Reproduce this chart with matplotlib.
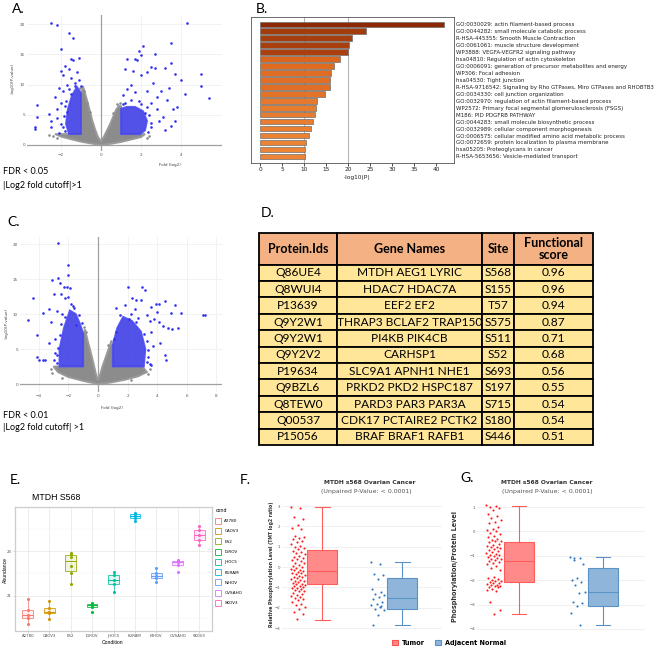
import numpy as np
import matplotlib.pyplot as plt
from matplotlib.colors import LinearSegmentedColormap, Normalize, to_rgba
from matplotlib.patches import Polygon, Patch
from matplotlib.lines import Line2D

W, H = 661, 649

# ---------------- A: volcano (FDR < 0.05) ----------------
gray_a = [(0, 0), (-0.5, 0.25), (-1.0, 0.55), (-1.5, 0.95), (-2.0, 1.4), (-2.3, 1.8),
          (-1.0, 1.8), (-1.0, 8.2), (-0.9, 9.7), (-0.75, 8.0), (-0.6, 6.2), (-0.45, 4.2),
          (-0.3, 2.6), (-0.15, 1.3), (0, 0.6), (0.15, 1.4), (0.3, 2.4), (0.45, 3.4),
          (0.6, 4.6), (0.75, 5.8), (0.9, 6.5), (1.0, 6.4), (1.0, 1.8), (2.2, 1.8),
          (2.0, 1.3), (1.5, 0.9), (1.0, 0.5), (0.5, 0.2)]
gray_pts_a = [(-2.4, 1.5), (-2.6, 1.7), (-2.2, 1.2), (2.4, 1.5), (2.3, 1.1), (-1.05, 9.4),
              (0.95, 6.9), (-0.7, 6.9), (-0.55, 5.4), (0.6, 5.3), (0.8, 6.7), (-0.85, 9.0)]
blue_core_a = [
    [(-1.0, 1.8), (-1.6, 1.8), (-1.75, 3.5), (-1.65, 6.0), (-1.45, 8.2), (-1.2, 9.6), (-1.0, 8.6)],
    [(1.0, 1.8), (1.0, 6.0), (1.3, 6.3), (1.7, 6.3), (2.1, 5.6), (2.3, 4.0), (2.2, 2.4), (1.95, 1.8)],
]
blue_a = [(-2.5, 20.1), (-2.2, 19.8), (-1.6, 18.6), (-1.4, 17.7), (-2.0, 15.9), (-1.5, 14.3),
          (-1.4, 14.0), (-1.1, 14.4), (-1.8, 13.0), (-2.0, 12.2), (-1.6, 12.5), (-1.2, 12.0),
          (-1.9, 11.6), (-1.5, 11.0), (-1.1, 10.8), (-2.1, 9.5), (-1.7, 10.0), (-1.3, 9.8),
          (-2.3, 8.0), (-2.0, 7.0), (-1.8, 6.5), (-3.2, 6.6), (-2.6, 5.2), (-3.2, 4.7),
          (-2.5, 4.0), (-2.2, 4.4), (-2.0, 3.5), (-3.3, 2.9), (-3.3, 2.6), (-2.5, 2.9),
          (-1.8, 2.3), (-2.1, 2.0), (-1.7, 5.5), (-1.5, 8.5), (-2.2, 6.0),
          (-1.75, 7.2), (-1.85, 4.8), (-1.9, 3.0), (-1.3, 10.3), (-1.0, 9.8), (-1.6, 9.2),
          (-1.9, 8.9),
          (4.3, 20.1), (3.5, 16.8), (2.1, 16.3), (1.9, 15.6), (2.0, 14.9), (2.7, 15.1),
          (1.7, 14.3), (1.3, 14.3), (1.8, 14.1), (3.5, 13.5), (2.5, 12.9), (2.7, 12.7),
          (3.2, 12.7), (1.2, 12.6), (1.6, 12.2), (2.3, 12.0), (2.0, 11.5), (3.7, 11.8),
          (5.0, 11.8), (5.0, 9.8), (4.0, 10.8), (4.2, 8.4), (3.4, 9.5), (3.0, 9.0),
          (2.6, 10.2), (2.8, 8.0), (3.3, 7.5), (2.5, 7.0), (3.8, 6.3), (3.6, 5.9),
          (5.4, 7.8), (3.1, 4.6), (3.5, 3.1), (3.7, 4.0), (2.9, 4.0), (2.5, 3.0),
          (3.2, 2.5), (2.3, 9.0), (1.5, 10.0), (1.3, 9.2), (1.1, 8.3), (2.2, 5.3),
          (2.8, 6.0), (1.9, 7.3), (1.7, 8.8),
          (2.4, 5.0), (2.5, 3.6), (2.35, 2.2), (1.2, 7.0), (1.5, 7.4), (2.0, 6.8),
          (2.3, 6.3), (1.1, 6.8)]

# ---------------- C: volcano (FDR < 0.01) ----------------
gray_c = [(0, 0), (-1.0, 0.45), (-2.0, 1.0), (-2.7, 1.7), (-3.0, 2.5), (-1.0, 2.5),
          (-1.0, 7.0), (-0.88, 7.8), (-0.7, 6.2), (-0.5, 4.6), (-0.3, 2.9), (-0.15, 1.5),
          (0, 0.5), (0.15, 1.4), (0.3, 2.5), (0.5, 3.7), (0.7, 4.9), (0.85, 5.8),
          (1.0, 5.5), (1.0, 2.5), (3.0, 2.5), (3.3, 1.7), (2.7, 1.1), (1.8, 0.6), (0.8, 0.2)]
gray_pts_c = [(-3.2, 2.2), (-3.1, 1.6), (3.5, 2.2), (3.4, 1.4), (-0.95, 8.2), (0.9, 6.2),
              (-0.8, 7.4), (0.7, 5.6), (-2.4, 0.9), (2.2, 0.6)]
blue_core_c = [
    [(-1.0, 2.5), (-2.6, 2.5), (-2.6, 5.0), (-2.3, 8.0), (-1.9, 10.5), (-1.5, 10.0),
     (-1.2, 8.5), (-1.0, 7.2)],
    [(1.0, 2.5), (1.0, 5.6), (1.3, 8.0), (1.7, 9.6), (2.3, 9.0), (2.9, 7.5), (3.2, 5.0),
     (3.1, 2.5)],
]
blue_c = [(-2.7, 20.2), (-2.0, 17.0), (-2.0, 15.6), (-3.1, 14.8), (-2.7, 15.2), (-2.6, 14.5),
          (-2.3, 13.9), (-2.1, 13.9), (-1.9, 13.7), (-3.0, 12.8), (-2.5, 12.8), (-2.2, 12.3),
          (-2.0, 12.5), (-4.4, 12.3), (-1.8, 11.5), (-1.6, 10.8), (-3.7, 10.1), (-3.3, 10.7),
          (-2.8, 10.5), (-4.7, 9.1), (-4.1, 7.0), (-3.3, 5.8), (-2.9, 6.5), (-4.1, 3.8),
          (-4.0, 3.5), (-3.7, 3.4), (-3.6, 3.4), (-3.0, 3.5), (-2.9, 4.4), (-2.7, 5.2),
          (-3.2, 8.8), (-1.5, 8.5), (-2.4, 10.0),
          (-2.8, 3.0), (-2.75, 4.2), (-2.6, 7.0), (-2.2, 9.6), (-1.7, 11.2), (-1.3, 9.8),
          (-1.1, 8.7), (-2.5, 8.6),
          (2.0, 13.9), (3.0, 13.8), (3.2, 13.5), (2.3, 12.3), (2.6, 12.0), (2.9, 12.0),
          (1.8, 11.3), (3.9, 11.5), (4.1, 11.5), (4.5, 11.8), (5.2, 11.3), (3.6, 11.0),
          (1.2, 10.9), (4.0, 10.3), (4.9, 10.2), (5.6, 10.1), (7.2, 9.9), (7.1, 9.8),
          (3.3, 9.8), (2.7, 9.5), (3.5, 9.0), (3.8, 9.3), (4.1, 8.8), (4.4, 8.3),
          (4.7, 8.0), (5.0, 7.9), (5.4, 8.0), (3.6, 7.5), (4.2, 5.8), (4.5, 4.2),
          (4.6, 3.5), (3.4, 4.8), (3.7, 5.5), (3.3, 3.2), (3.5, 2.8), (2.2, 10.0),
          (1.5, 9.8), (2.5, 10.7),
          (3.4, 3.8), (3.3, 6.2), (3.1, 7.2), (2.6, 8.8), (2.1, 9.3), (1.2, 7.5),
          (1.1, 6.5), (3.6, 2.7)]

# ---------------- B: enrichment bars ----------------
terms = ["GO:0030029: actin filament-based process",
         "GO:0044282: small molecule catabolic process",
         "R-HSA-445355: Smooth Muscle Contraction",
         "GO:0061061: muscle structure development",
         "WP3888: VEGFA-VEGFR2 signaling pathway",
         "hsa04810: Regulation of actin cytoskeleton",
         "GO:0006091: generation of precursor metabolites and energy",
         "WP306: Focal adhesion",
         "hsa04530: Tight junction",
         "R-HSA-9716542: Signaling by Rho GTPases, Miro GTPases and RHOBTB3",
         "GO:0034330: cell junction organization",
         "GO:0032970: regulation of actin filament-based process",
         "WP2572: Primary focal segmental glomerulosclerosis (FSGS)",
         "M186: PID PDGFRB PATHWAY",
         "GO:0044283: small molecule biosynthetic process",
         "GO:0032989: cellular component morphogenesis",
         "GO:0006575: cellular modified amino acid metabolic process",
         "GO:0072659: protein localization to plasma membrane",
         "hsa05205: Proteoglycans in cancer",
         "R-HSA-5653656: Vesicle-mediated transport"]
neg_log_p = [41.8, 24.0, 20.8, 20.3, 19.9, 18.2, 16.7, 16.0, 15.9, 15.8,
             14.7, 13.0, 12.6, 12.4, 12.0, 11.5, 11.1, 10.5, 10.2, 10.1]

# ---------------- D: table ----------------
table_header = ["Protein.Ids", "Gene Names", "Site", "Functional\nscore"]
protein_ids = ["Q86UE4", "Q8WUI4", "P13639", "Q9Y2W1", "Q9Y2W1", "Q9Y2V2",
               "P19634", "Q9BZL6", "Q8TEW0", "Q00537", "P15056"]
gene_names = ["MTDH AEG1 LYRIC", "HDAC7 HDAC7A", "EEF2 EF2", "THRAP3 BCLAF2 TRAP150",
              "PI4KB PIK4CB", "CARHSP1", "SLC9A1 APNH1 NHE1", "PRKD2 PKD2 HSPC187",
              "PARD3 PAR3 PAR3A", "CDK17 PCTAIRE2 PCTK2", "BRAF BRAF1 RAFB1"]
sites = ["S568", "S155", "T57", "S575", "S511", "S52", "S693", "S197", "S715", "S180", "S446"]
func_scores = [0.96, 0.96, 0.94, 0.87, 0.71, 0.68, 0.56, 0.55, 0.54, 0.54, 0.51]

# ---------------- E: MTDH S568 abundance per cell line ----------------
conds = ["A2780", "CAOV3", "ES2", "IGROV", "JHOC5", "KURAM", "NIHOV", "OVSAHO", "SKOV3"]
abundance = [
    [19.74, 20.01, 20.16, 20.38, 20.85],
    [19.98, 20.23, 20.27, 20.48, 20.79],
    [21.53, 22.04, 22.33, 22.74, 22.87, 22.90],
    [20.30, 20.52, 20.60, 20.64, 20.70],
    [21.19, 21.53, 21.71, 21.93, 22.05],
    [24.33, 24.45, 24.56, 24.63, 24.70],
    [21.64, 21.81, 21.91, 22.01, 22.26],
    [22.08, 22.38, 22.51, 22.55, 22.60],
    [23.27, 23.49, 23.71, 23.93, 24.11],
]
cond_colors = ["#F8766D", "#D39200", "#93AA00", "#00BA38", "#00C19F",
               "#00B9E3", "#619CFF", "#DB72FB", "#FF61C3"]

# ---------------- F / G: tumor vs adjacent normal ----------------
f_tumor = [2.97, 2.9, 2.45, 2.35, 2.05, 1.9, 1.85, 1.55, 1.5, 1.42, 1.38, 1.3, 1.25, 1.15,
           1.05, 1.0, 0.95, 0.88, 0.8, 0.72, 0.7, 0.62, 0.55, 0.5, 0.45, 0.4, 0.35, 0.3,
           0.22, 0.18, 0.1, 0.05, 0.0, -0.05, -0.08, -0.12, -0.15, -0.2, -0.22, -0.28,
           -0.3, -0.35, -0.4, -0.42, -0.48, -0.5, -0.55, -0.6, -0.62, -0.68, -0.7, -0.75,
           -0.78, -0.82, -0.85, -0.9, -0.92, -0.95, -1.0, -1.02, -1.05, -1.1, -1.12,
           -1.18, -1.2, -1.25, -1.3, -1.35, -1.4, -1.45, -1.5, -1.55, -1.62, -1.7, -1.8,
           -1.85, -1.95, -2.05, -2.2, -2.3, -2.55]
f_normal = [0.26, 0.14, -0.32, -0.40, -0.58, -1.10, -1.22, -1.30, -1.38, -1.45, -1.55,
            -1.71, -1.80, -1.84, -1.96, -2.04, -2.12, -2.37, -2.86, -1.90]
g_tumor = [1.08, 1.05, 1.0, 0.95, 0.88, 0.7, 0.62, 0.55, 0.45, 0.38, 0.33, 0.2, 0.12, 0.05,
           0.0, -0.05, -0.1, -0.18, -0.22, -0.3, -0.35, -0.38, -0.4, -0.45, -0.5, -0.55,
           -0.6, -0.62, -0.65, -0.68, -0.72, -0.76, -0.8, -0.85, -0.88, -0.92, -0.95,
           -0.98, -1.0, -1.05, -1.1, -1.12, -1.15, -1.17, -1.2, -1.25, -1.3, -1.35, -1.42,
           -1.5, -1.58, -1.85, -1.9, -1.95, -2.0, -2.02, -2.05, -2.08, -2.1, -2.12, -2.15,
           -2.18, -2.2, -2.22, -2.25, -2.27, -2.3, -2.35, -2.4, -2.45, -2.88, -3.22, -3.39]
g_normal = [-1.04, -1.10, -1.17, -1.34, -1.90, -1.99, -2.06, -2.20, -2.47, -2.54, -2.88,
            -2.95, -3.06, -3.36, -3.84, -1.08]
# box summaries: (whisker low, q1, median, q3, whisker high)
f_tumor_box = (-2.58, -0.84, -0.19, 0.83, 2.97)
f_normal_box = (-2.86, -2.07, -1.50, -0.53, 0.26)
g_tumor_box = (-3.39, -2.09, -1.20, -0.42, 1.05)
g_normal_box = (-3.84, -3.04, -2.47, -1.51, -1.06)
f_yticks = [3, 2, 1, 0, -1, -2, -3]
g_yticks = [1, 0, -1, -2, -3, -4]

fig = plt.figure(figsize=(W / 100, H / 100), dpi=100)


def add_ax(x0, y0, x1, y1):
    """Axes from a pixel box: left, top, right, bottom."""
    return fig.add_axes([x0 / W, 1 - y1 / H, (x1 - x0) / W, (y1 - y0) / H])


def put(x, y, s, **kw):
    kw.setdefault("va", "center")
    fig.text(x / W, 1 - y / H, s, **kw)


def volcano(ax, gray, gray_pts, cores, blue, xlim, ylim, xticks):
    ax.set_xlim(xlim)
    ax.set_ylim(ylim)
    for sp in ax.spines.values():
        sp.set_visible(False)
    ax.set_xticks(xticks)
    ax.set_yticks([0, 5, 10, 15, 20])
    ax.grid(True, color="#ededed", lw=0.5)
    ax.set_axisbelow(True)
    ax.axvline(0, color="#a0a0a0", lw=0.9, zorder=1)
    ax.axhline(0, color="#a0a0a0", lw=0.9, zorder=1)
    ax.add_patch(Polygon(gray, closed=True, fc="#8c8c8c", ec="#9a9a9a", lw=1.4, zorder=2))
    gx, gy = zip(*gray_pts)
    ax.scatter(gx, gy, s=3.5, c="#8c8c8c", lw=0, zorder=2)
    for c in cores:
        ax.add_patch(Polygon(c, closed=True, fc="#3434e6", ec="#4a4af0", lw=1.4,
                             alpha=0.85, zorder=3))
    bx, by = zip(*blue)
    ax.scatter(bx, by, s=3.5, c="#3030f0", lw=0, zorder=4)
    ax.tick_params(length=0, labelsize=3, labelcolor="#555555", pad=1.5)


# ---- A ----
axA = add_ax(27, 15, 222, 151)
volcano(axA, gray_a, gray_pts_a, blue_core_a, blue_a, (-3.7, 6.05), (-1.0, 21.5),
        [-2, 0, 2, 4])
put(12, 9, "A.", fontsize=10, family="Lato")
put(170, 165, "Fold (log2)", fontsize=3, color="#444444", ha="center")
put(13, 78, "-log10(P-value)", fontsize=3, color="#444444", ha="center", rotation=90)
put(3, 172, "FDR < 0.05", fontsize=6.5, family="Lato")
put(3, 185, "|Log2 fold cutoff|>1", fontsize=6.5, family="Lato")

# ---- C ----
axC = add_ax(20, 237, 222, 392)
volcano(axC, gray_c, gray_pts_c, blue_core_c, blue_c, (-5.27, 8.38), (-1.14, 21.0),
        [-4, -2, 0, 2, 4, 6, 8])
put(7, 222, "C.", fontsize=10, family="Lato")
put(112, 408, "Fold (log2)", fontsize=3, color="#444444", ha="center")
put(7, 323, "-log10(P-value)", fontsize=3, color="#444444", ha="center", rotation=90)
put(3, 415, "FDR < 0.01", fontsize=6.5, family="Lato")
put(3, 427, "|Log2 fold cutoff| >1", fontsize=6.5, family="Lato")

# ---- B ----
axB = add_ax(251, 17, 454, 163)
cmap = LinearSegmentedColormap.from_list(
    "enrich", [(0, "#ec8536"), (0.3, "#d95f18"), (0.31, "#a83f0d"), (1, "#8c2904")])
norm = Normalize(10, 42)
ypos = np.arange(len(terms))
axB.barh(ypos, neg_log_p, height=0.8, color=cmap(norm(np.array(neg_log_p))),
         edgecolor="#6f6f6f", lw=0.5, zorder=3)
for v in (10, 20):
    axB.axvline(v, color="#b5b5b5", lw=0.8, zorder=1)
axB.set_xlim(-2.1, 44.1)
axB.set_ylim(19.95, -1.05)
axB.set_xticks(range(0, 45, 5))
axB.set_yticks(ypos)
axB.set_yticklabels(terms)
axB.yaxis.tick_right()
axB.tick_params(axis="y", length=0, pad=1.2, labelsize=3.95, labelcolor="#222222")
axB.tick_params(axis="x", length=2, width=0.5, pad=1, labelsize=4.2, labelcolor="#222222")
for sp in axB.spines.values():
    sp.set_color("#555555")
    sp.set_linewidth(0.6)
put(357, 178, "-log10(P)", fontsize=4.2, ha="center", color="#222222")
put(256, 9, "B.", fontsize=10, family="Lato")

# ---- D ----
axD = add_ax(259, 233, 593, 445)
axD.axis("off")
rows = [[p, g, s, f"{v:.2f}"] for p, g, s, v in zip(protein_ids, gene_names, sites, func_scores)]
col_w = np.array([78, 145, 32, 79]) / 334
tbl = axD.table(cellText=rows, colLabels=table_header, colWidths=list(col_w),
                cellLoc="center", bbox=[0, 0, 1, 1])
tbl.auto_set_font_size(False)
for (r, c), cell in tbl.get_celld().items():
    cell.set_edgecolor("black")
    cell.set_linewidth(1.3)
    if r == 0:
        cell.set_height(cell.get_height() * 1.93)
        cell.set_facecolor("#F4B183")
        cell.get_text().set(fontsize=9, fontweight="bold", family="Lato", linespacing=1.05)
    else:
        cell.set_facecolor("#FFE699")
        cell.get_text().set(fontsize=8.6, family="Lato")
put(261, 213, "D.", fontsize=10, family="Lato")

# ---- E ----
axE = add_ax(15, 507, 212, 631)
pos = np.arange(1, len(conds) + 1)
bp = axE.boxplot(abundance, positions=pos, widths=0.5, patch_artist=True,
                 showfliers=False, manage_ticks=False)
for i, col in enumerate(cond_colors):
    bp["boxes"][i].set(facecolor=to_rgba(col, 0.12), edgecolor=to_rgba(col, 0.8), lw=0.7)
    bp["medians"][i].set(color=col, lw=0.7)
    for w in bp["whiskers"][2 * i:2 * i + 2]:
        w.set(color=to_rgba(col, 0.8), lw=0.6)
    for cp in bp["caps"][2 * i:2 * i + 2]:
        cp.set_visible(False)
    axE.scatter(np.full(len(abundance[i]), pos[i]), abundance[i], s=5, color=col,
                lw=0, zorder=4)
axE.set_xlim(0.4, 9.6)
axE.set_ylim(19.44, 24.96)
axE.set_xticks(pos)
axE.set_xticklabels(conds)
axE.set_yticks([21, 23])
axE.set_yticks([20, 22, 24], minor=True)
axE.grid(True, which="major", color="#e6e6e6", lw=0.5)
axE.grid(True, which="minor", axis="y", color="#f2f2f2", lw=0.3)
axE.set_axisbelow(True)
axE.tick_params(which="both", length=1.2, width=0.4, color="#b0b0b0", pad=1,
                labelsize=2.8, labelcolor="#4d4d4d")
axE.tick_params(which="minor", length=0)
for sp in axE.spines.values():
    sp.set_color("#cdcdcd")
    sp.set_linewidth(0.9)
put(10, 480, "E.", fontsize=10, family="Lato")
put(32, 497, "MTDH S568", fontsize=6.3, family="Liberation Sans")
put(113, 642, "Condition", fontsize=3.6, ha="center", family="Liberation Sans")
put(5, 570, "Abundance", fontsize=3.6, ha="center", rotation=90, family="Liberation Sans")
handles = [Line2D([], [], marker="s", ls="", mfc="none", mec=c, ms=4, mew=0.6)
           for c in cond_colors]
leg = axE.legend(handles, conds, title="cond", loc="upper left",
                 bbox_to_anchor=(216 / W, 1 - 508 / H), bbox_transform=fig.transFigure,
                 frameon=False, fontsize=3, title_fontsize=3.4, handlelength=0.8,
                 handletextpad=1.2, labelspacing=1.5, borderaxespad=0, borderpad=0)
leg._legend_box.align = "left"


# ---- F / G ----
def box_panel(ax, tumor, normal, tbox, nbox, yticks, ylim, width):
    groups = [(tumor, tbox, "#ff8a8a", "#ff5c5c", "#ff1a1a"),
              (normal, nbox, "#8fb5da", "#5a92c6", "#2b78bf")]
    for i, (pts, st, fc, ec, pc) in enumerate(groups):
        stats = dict(whislo=st[0], q1=st[1], med=st[2], q3=st[3], whishi=st[4], fliers=[])
        ax.bxp([stats], positions=[i], widths=width, capwidths=width * 0.5,
               patch_artist=True, showfliers=False, manage_ticks=False,
               boxprops=dict(facecolor=fc, edgecolor=ec, lw=0.8),
               medianprops=dict(color=ec, lw=0.8),
               whiskerprops=dict(color=ec, lw=0.8), capprops=dict(color=ec, lw=0.8))
        jit = -0.30 + 0.18 * (((np.arange(len(pts)) * 0.618034) % 1) - 0.5)
        ax.scatter(i + jit, pts, s=2.3, c=pc, lw=0, zorder=4)
    ax.set_xlim(-0.5, 1.5)
    ax.set_ylim(ylim)
    ax.set_xticks([])
    ax.set_yticks(yticks)
    ax.grid(True, axis="y", color="#eeeeee", lw=0.6)
    ax.set_axisbelow(True)
    for sp in ax.spines.values():
        sp.set_visible(False)
    ax.tick_params(length=0, pad=1.5, labelsize=2.8, labelcolor="#555555")


axF = add_ax(282, 500, 442, 635)
box_panel(axF, f_tumor, f_normal, f_tumor_box, f_normal_box, f_yticks, (-3.34, 3.30), 0.375)
put(240, 480, "F.", fontsize=10, family="Lato")
put(370, 482, "MTDH s568 Ovarian Cancer", fontsize=4.3, fontweight="bold",
    color="#333333", ha="center")
put(366, 491, "(Unpaired P-Value: < 0.0001)", fontsize=4.5, color="#555555", ha="center")
put(271, 564, "Relative Phosphorylation Level (TMT log2 ratio)", fontsize=3.3,
    fontweight="bold", color="#333333", ha="center", rotation=90)

axG = add_ax(477, 500, 645, 635)
box_panel(axG, g_tumor, g_normal, g_tumor_box, g_normal_box, g_yticks, (-4.25, 1.29), 0.357)
put(460, 478, "G.", fontsize=10, family="Lato")
put(547, 482, "MTDH s568 Ovarian Cancer", fontsize=4.3, fontweight="bold",
    color="#333333", ha="center")
put(547, 491, "(Unpaired P-Value: < 0.0001)", fontsize=4.5, color="#555555", ha="center")
put(455, 567, "Phosphorylation/Protein Level", fontsize=4.7, fontweight="bold",
    color="#333333", ha="center", rotation=90)

fig.legend(handles=[Patch(facecolor="#ff8a8a", edgecolor="#ff5050", lw=0.8),
                    Patch(facecolor="#8fb5da", edgecolor="#5a92c6", lw=0.8)],
           labels=["Tumor", "Adjacent Normal"], ncol=2, loc="center left",
           bbox_to_anchor=(392 / W, 1 - 643 / H), frameon=False,
           prop=dict(weight="bold", size=4.7), handlelength=0.9, handleheight=0.9,
           handletextpad=0.6, columnspacing=1.6, borderpad=0, borderaxespad=0)

fig.savefig("out.png", dpi=100)
